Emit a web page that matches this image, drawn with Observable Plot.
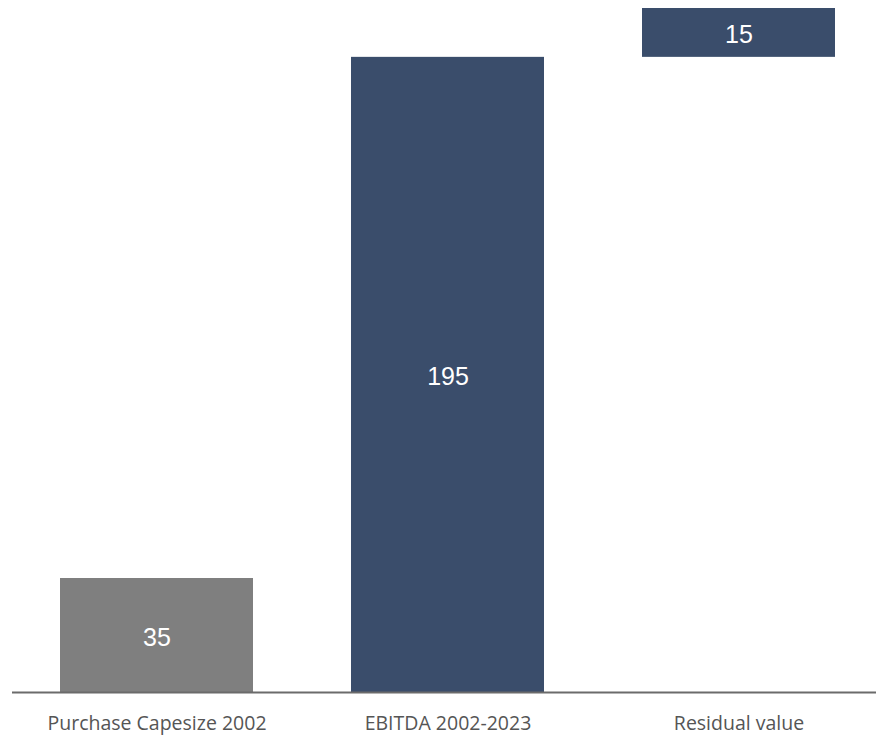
<!DOCTYPE html>
<html>
<head>
<meta charset="utf-8">
<script src="https://cdn.jsdelivr.net/npm/d3@7"></script>
<script src="https://cdn.jsdelivr.net/npm/@observablehq/plot@0.6"></script>
<style>
  body { margin: 0; background: #fff; }
  #chart svg { display: block; }
</style>
</head>
<body>
<div id="chart"></div>
<script>
const categories = ["Purchase Capesize 2002", "EBITDA 2002-2023", "Residual value"];
const bases = [0, 0, 195];
const values = [35, 195, 15];
const kinds = ["purchase", "ebitda", "residual"];

const data = categories.map((c, i) => ({
  category: c,
  y1: bases[i],
  y2: bases[i] + values[i],
  mid: bases[i] + values[i] / 2,
  label: String(values[i]),
  kind: kinds[i]
}));

const chart = Plot.plot({
  width: 876,
  height: 738,
  marginLeft: 12,
  marginRight: 0,
  marginTop: 8,
  marginBottom: 46,
  style: { background: "#fff", overflow: "visible" },
  x: {
    domain: categories,
    range: [11, 884],
    paddingInner: 0.337,
    paddingOuter: 0.1685,
    label: null
  },
  y: { domain: [0, 210], axis: null },
  color: {
    domain: ["purchase", "ebitda", "residual"],
    range: ["#7f7f7f", "#3a4d6b", "#3a4d6b"]
  },
  marks: [
    Plot.barY(data, { x: "category", y1: "y1", y2: "y2", fill: "kind" }),
    Plot.ruleY([0], { stroke: "#6b6b6b", strokeWidth: 2 }),
    Plot.text(data, {
      x: "category", y: "mid", text: "label",
      fill: "#ffffff", fontSize: 25, dy: 2,
      fontFamily: "Liberation Sans, Arial, sans-serif"
    }),
    Plot.axisX({
      tickSize: 0, tickPadding: 24, fontSize: 19.5,
      fontFamily: "Open Sans, Noto Sans, sans-serif",
      color: "#555555", label: null
    })
  ]
});
document.getElementById("chart").append(chart);
</script>
</body>
</html>
